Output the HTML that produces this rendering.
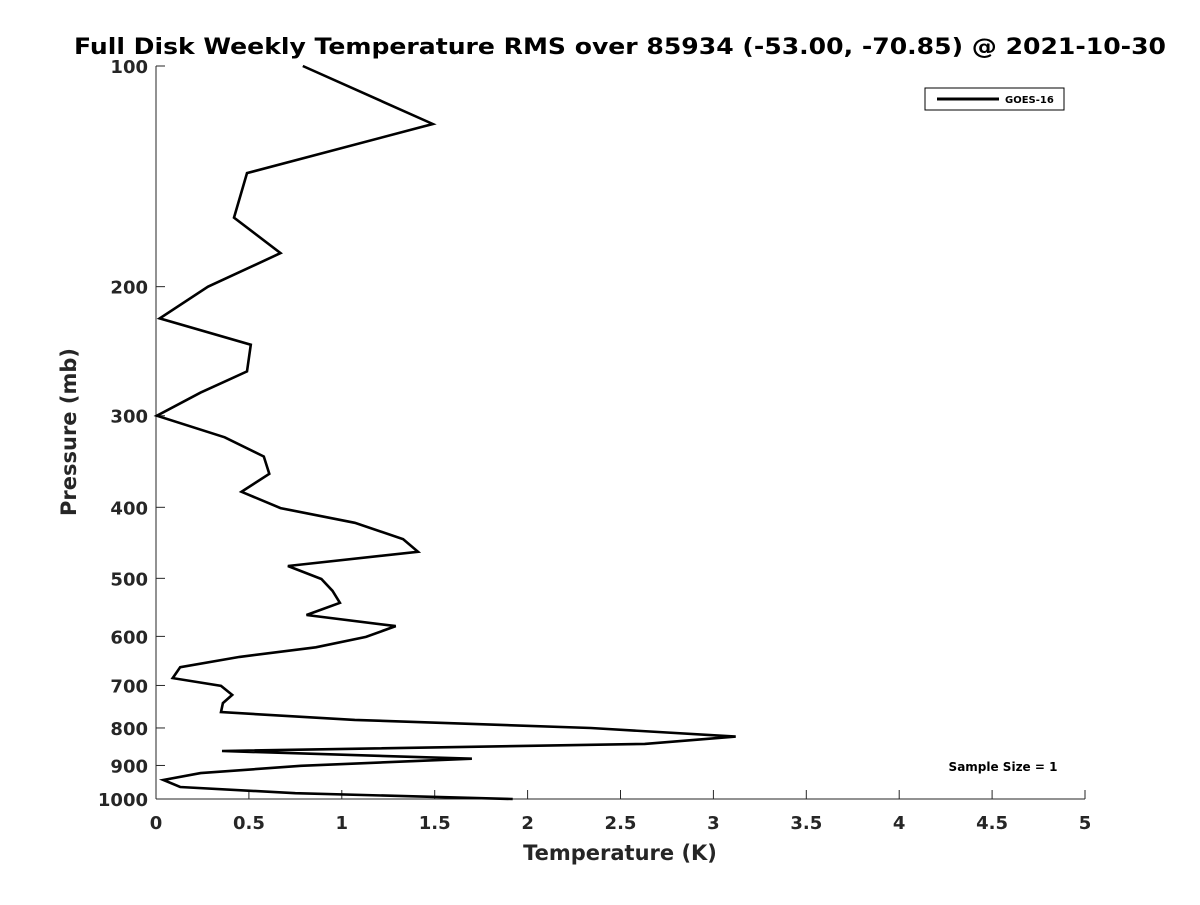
<!DOCTYPE html>
<html><head><meta charset="utf-8"><style>
html,body{margin:0;padding:0;background:#fff;}
svg text{font-family:"DejaVu Sans","Liberation Sans",sans-serif;font-weight:bold;fill:#262626;}
</style></head><body>
<svg id="chart" width="1200" height="900" xmlns="http://www.w3.org/2000/svg">
<rect width="1200" height="900" fill="#fff"/>
<text x="620" y="54" text-anchor="middle" font-size="22" textLength="1092" lengthAdjust="spacingAndGlyphs" style="fill:#000">Full Disk Weekly Temperature RMS over 85934 (-53.00, -70.85) @ 2021-10-30</text>
<g id="axes"></g>
<polyline id="series" fill="none" stroke="#000" stroke-width="2.6" stroke-linejoin="miter"/>
<g>
<rect x="925" y="88" width="139" height="22" fill="#fff" stroke="#000" stroke-width="1"/>
<line x1="937" y1="99" x2="999" y2="99" stroke="#000" stroke-width="3"/>
<text x="1005" y="103" font-size="10" style="fill:#000">GOES-16</text>
</g>
<text x="1003" y="771" text-anchor="middle" font-size="12" style="fill:#000">Sample Size = 1</text>
<text x="620" y="860" text-anchor="middle" font-size="21">Temperature (K)</text>
<text transform="translate(76,432) rotate(-90)" text-anchor="middle" font-size="21">Pressure (mb)</text>
</svg>
<script>
const pressures=[100,120,140,161,180,200,221,240,261,279,300,321,341,360,381,401,420,442,460,481,501,520,540,561,581,601,621,640,661,684,701,721,740,761,780,800,822,841,860,881,901,922,942,963,982,1000];
const temps=[0.79,1.49,0.49,0.42,0.67,0.28,0.02,0.51,0.49,0.24,0.005,0.37,0.58,0.61,0.46,0.67,1.07,1.33,1.41,0.71,0.89,0.95,0.99,0.81,1.29,1.13,0.86,0.45,0.13,0.09,0.35,0.41,0.36,0.35,1.07,2.34,3.12,2.63,0.355,1.70,0.78,0.24,0.04,0.13,0.75,1.92];
const xTicks=[0,0.5,1,1.5,2,2.5,3,3.5,4,4.5,5];
const xTickLabels=["0","0.5","1","1.5","2","2.5","3","3.5","4","4.5","5"];
const yTicks=[100,200,300,400,500,600,700,800,900,1000];
const X0=156,X1=1085,Y0=66,Y1=799;
const xs=t=>X0+(t/5)*(X1-X0);
const ys=p=>Y0+(Math.log10(p)-2)*(Y1-Y0);
const NS="http://www.w3.org/2000/svg";
const ax=document.getElementById('axes');
function mk(tag,attrs){const e=document.createElementNS(NS,tag);for(const k in attrs)e.setAttribute(k,attrs[k]);return e;}
let l=mk('line',{x1:X0,y1:Y0,x2:X0,y2:Y1,stroke:'#262626','stroke-width':1});


ax.appendChild(l);
l=mk('line',{x1:X0,y1:Y1,x2:X1,y2:Y1,stroke:'#262626','stroke-width':1});


ax.appendChild(l);
xTicks.forEach((t,i)=>{
 const x=xs(t);
 ax.appendChild(mk('line',{x1:x,y1:Y1,x2:x,y2:Y1-9,stroke:'#262626'}));
 const tx=mk('text',{x:x,y:Y1+30,'text-anchor':'middle','font-size':18});
 tx.textContent=xTickLabels[i];
 
 
 ax.appendChild(tx);
});
yTicks.forEach(p=>{
 const y=ys(p);
 ax.appendChild(mk('line',{x1:X0,y1:y,x2:X0+9,y2:y,stroke:'#262626'}));
 const tx=mk('text',{x:X0-8,y:y+7,'text-anchor':'end','font-size':18});
 tx.textContent=String(p);
 
 
 ax.appendChild(tx);
});
document.getElementById('series').setAttribute('points',temps.map((t,i)=>xs(t).toFixed(1)+','+ys(pressures[i]).toFixed(1)).join(' '));
</script>
</body></html>
